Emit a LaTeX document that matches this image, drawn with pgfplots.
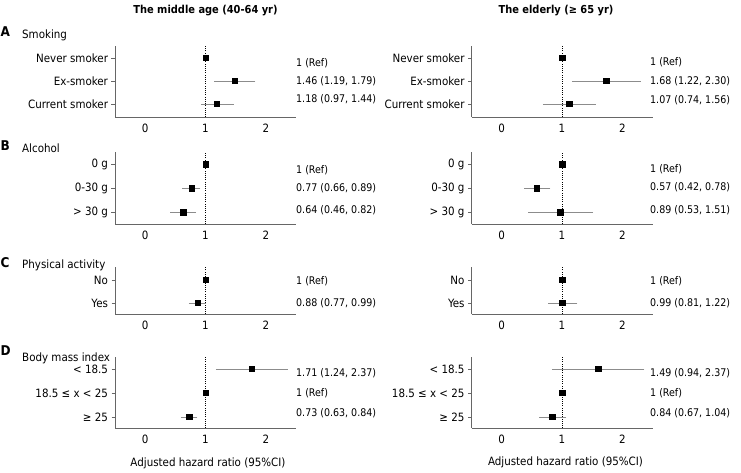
\documentclass[border=0pt]{standalone}
\usepackage{fontspec}
\setmainfont{DejaVu Sans Condensed}
\usepackage{pgfplots}
\usepackage{pgfplotstable}
\pgfplotsset{compat=1.18}

% one table per panel: x = hazard ratio, y = row (top row highest), em/ep = CI arms
\pgfplotstableread{
x    y  em   ep
1    3  0    0
1.48 2  0.30 0.31
1.19 1  0.22 0.24
}\midA
\pgfplotstableread{
x    y  em   ep
1    3  0    0
1.73 2  0.53 0.54
1.12 1  0.40 0.40
}\oldA
\pgfplotstableread{
x    y  em   ep
1    3  0    0
0.77 2  0.12 0.11
0.63 1  0.18 0.18
}\midB
\pgfplotstableread{
x    y  em   ep
1    3  0    0
0.58 2  0.17 0.19
0.97 1  0.49 0.51
}\oldB
\pgfplotstableread{
x    y  em   ep
1    2  0    0
0.87 1  0.11 0.10
}\midC
\pgfplotstableread{
x    y  em   ep
1    2  0    0
1.00 1  0.19 0.22
}\oldC
\pgfplotstableread{
x    y  em   ep
1.77 3  0.56 0.56
1    2  0    0
0.73 1  0.10 0.10
}\midD
\pgfplotstableread{
x    y  em   ep
1.60 3  0.73 0.73
1    2  0    0
0.84 1  0.18 0.19
}\oldD

\newcommand{\txt}{\fontsize{11.5}{13}\selectfont}
\newcommand{\num}{\fontsize{10.6}{12}\selectfont}

\pgfplotsset{
  forest/.style={
    scale only axis, width=181bp,
    xmin=-0.5, xmax=2.5, xtick={0,1,2},
    axis x line*=bottom, axis y line*=left,
    axis line style={black!60},
    x tick style={draw=none},
    y tick style={black!60},
    tick align=outside, major tick length=3.5bp,
    ytick={1,2,3},
    tick label style={font=\txt},
    /pgf/number format/assume math mode=true,
    clip=false,
  },
  ci/.style={
    only marks, mark=square*, mark size=2.7bp, black,
    error bars/.cd, x dir=both, x explicit,
    error bar style={black!45, line width=0.6bp},
    error mark options={black!45, mark size=2.2bp, line width=0.6bp},
  },
  refline/.style={black, line width=0.6bp, dash pattern=on 0.6bp off 1.6bp, forget plot},
}

\begin{document}
\begin{tikzpicture}[font=\txt]
\useasboundingbox (0,0) rectangle (741bp,-473bp);

% ---- headings
\node[font=\fontsize{11}{13}\selectfont\bfseries] at (205.5bp,-11bp) {The middle age (40-64 yr)};
\node[font=\fontsize{11}{13}\selectfont\bfseries] at (556bp,-11bp) {The elderly (≥ 65 yr)};
\foreach \l/\yy in {A/32,B/146,C/263,D/351}
  \node[anchor=west, inner sep=0, font=\fontsize{13.5}{14}\selectfont\bfseries] at (0.5bp,-\yy bp) {\l};
\node[anchor=west, inner sep=0] at (22bp,-35bp) {Smoking};
\node[anchor=west, inner sep=0] at (22bp,-148bp) {Alcohol};
\node[anchor=west, inner sep=0] at (22bp,-265bp) {Physical activity};
\node[anchor=west, inner sep=0] at (22bp,-358bp) {Body mass index};

% ---- A: smoking
\begin{axis}[forest, at={(115bp,-46bp)}, anchor=north west, height=71bp,
  ymin=0.435, ymax=3.52, yticklabels={Current smoker,Ex-smoker,Never smoker}]
  \addplot[refline] coordinates {(1,0.435) (1,3.52)};
  \addplot[ci] table[x=x, y=y, x error minus=em, x error plus=ep] {\midA};
\end{axis}
\begin{axis}[forest, at={(471.5bp,-46bp)}, anchor=north west, height=71bp,
  ymin=0.435, ymax=3.52, yticklabels={Current smoker,Ex-smoker,Never smoker}]
  \addplot[refline] coordinates {(1,0.435) (1,3.52)};
  \addplot[ci] table[x=x, y=y, x error minus=em, x error plus=ep] {\oldA};
\end{axis}

% ---- B: alcohol
\begin{axis}[forest, at={(115bp,-152bp)}, anchor=north west, height=72bp,
  ymin=0.5, ymax=3.5, yticklabels={> 30 g,0-30 g,0 g}]
  \addplot[refline] coordinates {(1,0.5) (1,3.5)};
  \addplot[ci] table[x=x, y=y, x error minus=em, x error plus=ep] {\midB};
\end{axis}
\begin{axis}[forest, at={(471.5bp,-152bp)}, anchor=north west, height=72bp,
  ymin=0.5, ymax=3.5, yticklabels={> 30 g,0-30 g,0 g}]
  \addplot[refline] coordinates {(1,0.5) (1,3.5)};
  \addplot[ci] table[x=x, y=y, x error minus=em, x error plus=ep] {\oldB};
\end{axis}

% ---- C: physical activity
\begin{axis}[forest, at={(115bp,-267bp)}, anchor=north west, height=47bp,
  ymin=0.52, ymax=2.565, ytick={1,2}, yticklabels={Yes,No}]
  \addplot[refline] coordinates {(1,0.52) (1,2.565)};
  \addplot[ci] table[x=x, y=y, x error minus=em, x error plus=ep] {\midC};
\end{axis}
\begin{axis}[forest, at={(471.5bp,-267bp)}, anchor=north west, height=47bp,
  ymin=0.52, ymax=2.565, ytick={1,2}, yticklabels={Yes,No}]
  \addplot[refline] coordinates {(1,0.52) (1,2.565)};
  \addplot[ci] table[x=x, y=y, x error minus=em, x error plus=ep] {\oldC};
\end{axis}

% ---- D: body mass index
\begin{axis}[forest, at={(115bp,-357bp)}, anchor=north west, height=71bp,
  ymin=0.54, ymax=3.5, yticklabels={≥ 25,18.5 ≤ x < 25,< 18.5}]
  \addplot[refline] coordinates {(1,0.54) (1,3.5)};
  \addplot[ci] table[x=x, y=y, x error minus=em, x error plus=ep] {\midD};
\end{axis}
\begin{axis}[forest, at={(471.5bp,-357bp)}, anchor=north west, height=71bp,
  ymin=0.54, ymax=3.5, yticklabels={≥ 25,18.5 ≤ x < 25,< 18.5}]
  \addplot[refline] coordinates {(1,0.54) (1,3.5)};
  \addplot[ci] table[x=x, y=y, x error minus=em, x error plus=ep] {\oldD};
\end{axis}

\node at (208bp,-463bp) {Adjusted hazard ratio (95\%CI)};
\node at (565.5bp,-462bp) {Adjusted hazard ratio (95\%CI)};

% ---- HR (95%CI) columns
\begin{scope}[every node/.style={anchor=west, inner sep=0, font=\num}]
\node at (296bp,-63bp) {1 (Ref)};
\node at (296bp,-81bp) {1.46 (1.19, 1.79)};
\node at (296bp,-99.5bp) {1.18 (0.97, 1.44)};
\node at (650bp,-62bp) {1 (Ref)};
\node at (650bp,-81bp) {1.68 (1.22, 2.30)};
\node at (650bp,-100bp) {1.07 (0.74, 1.56)};

\node at (296bp,-170.5bp) {1 (Ref)};
\node at (296bp,-188bp) {0.77 (0.66, 0.89)};
\node at (296bp,-210bp) {0.64 (0.46, 0.82)};
\node at (650bp,-169bp) {1 (Ref)};
\node at (650bp,-187.5bp) {0.57 (0.42, 0.78)};
\node at (650bp,-210bp) {0.89 (0.53, 1.51)};

\node at (296bp,-281bp) {1 (Ref)};
\node at (296bp,-303bp) {0.88 (0.77, 0.99)};
\node at (650bp,-281.5bp) {1 (Ref)};
\node at (650bp,-303bp) {0.99 (0.81, 1.22)};

\node at (296bp,-373bp) {1.71 (1.24, 2.37)};
\node at (296bp,-393bp) {1 (Ref)};
\node at (296bp,-413bp) {0.73 (0.63, 0.84)};
\node at (650bp,-373bp) {1.49 (0.94, 2.37)};
\node at (650bp,-393bp) {1 (Ref)};
\node at (650bp,-413bp) {0.84 (0.67, 1.04)};
\end{scope}
\end{tikzpicture}
\end{document}
